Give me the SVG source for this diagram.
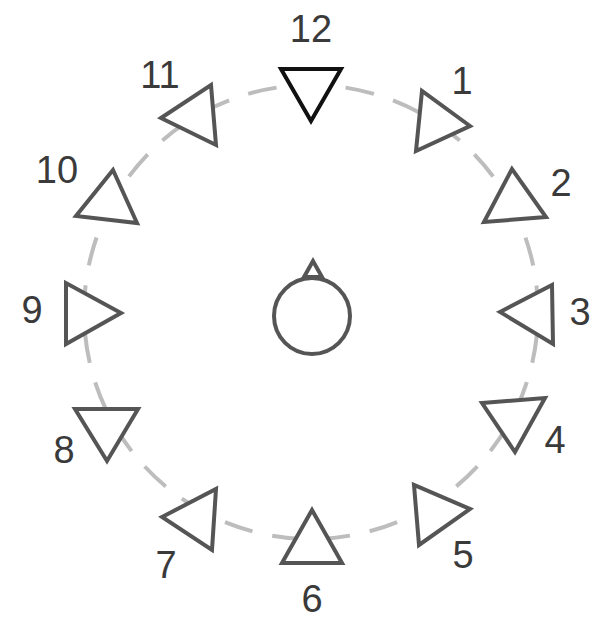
<svg xmlns="http://www.w3.org/2000/svg" width="598" height="619" viewBox="0 0 598 619">
<style>
.lbl{font-family:"Liberation Sans",Arial,sans-serif;font-size:38px;fill:#3a3a3a;text-anchor:middle}
.tri{fill:#fff;stroke:#555;stroke-width:4;stroke-linejoin:miter}
.ring{fill:none;stroke:#bdbdbd;stroke-width:4;stroke-dasharray:29 20.17;stroke-dashoffset:26.9}
</style>
<rect width="598" height="619" fill="#fff"/>
<g id="connectors">
<circle class="ring" cx="311" cy="312" r="227"/>
</g>
<g id="center">
<polygon class="tri" points="313,261 304,277 322,277" stroke-width="3.5"/>
<circle cx="312" cy="316" r="38" fill="#fff" stroke="#555" stroke-width="4"/>
</g>
<g id="n12"><polygon class="tri" style="stroke:#111" points="281,69 341,69 311,121"/><text class="lbl" x="311" y="42">12</text></g>
<g id="n1"><polygon class="tri" points="422,91 416,151 470,126"/><text class="lbl" x="462" y="94">1</text></g>
<g id="n2"><polygon class="tri" points="512,169 484,222 546,217"/><text class="lbl" x="561" y="196">2</text></g>
<g id="n3"><polygon class="tri" points="500,312 552,285 553,344"/><text class="lbl" x="580" y="325">3</text></g>
<g id="n4"><polygon class="tri" points="482,403 545,398 515,452"/><text class="lbl" x="555" y="453">4</text></g>
<g id="n5"><polygon class="tri" points="414,485 419,545 470,509"/><text class="lbl" x="463" y="568">5</text></g>
<g id="n6"><polygon class="tri" points="312,510 282,563 342,563"/><text class="lbl" x="312" y="612">6</text></g>
<g id="n7"><polygon class="tri" points="162,517 216,489 212,550"/><text class="lbl" x="166" y="578">7</text></g>
<g id="n8"><polygon class="tri" points="75,409 138,409 107,461"/><text class="lbl" x="64" y="463">8</text></g>
<g id="n9"><polygon class="tri" points="66,283 66,344 121,313"/><text class="lbl" x="32" y="323">9</text></g>
<g id="n10"><polygon class="tri" points="113,170 76,216 137,223"/><text class="lbl" x="57" y="183">10</text></g>
<g id="n11"><polygon class="tri" points="161,118 211,85 216,145"/><text class="lbl" x="160" y="88">11</text></g>
</svg>
